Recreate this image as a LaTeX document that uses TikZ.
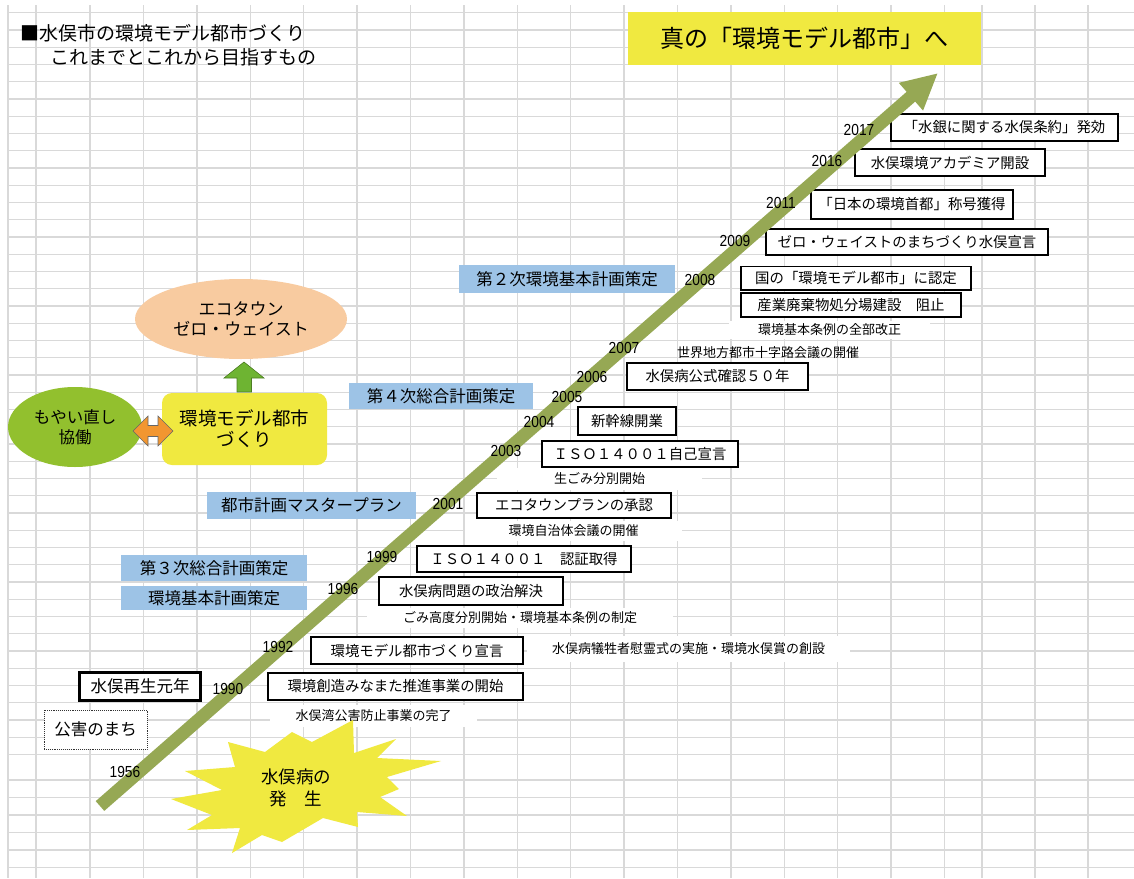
\documentclass[tikz,border=0pt]{standalone}
\usepackage{fontspec}
\setmainfont{Noto Sans CJK JP}
\newfontfamily\yearfont{Liberation Sans}[FakeStretch=0.86]
\usetikzlibrary{arrows.meta,shapes.geometric}
\definecolor{gridc}{RGB}{217,217,217}
\definecolor{yel}{RGB}{240,233,64}
\definecolor{blu}{RGB}{157,195,230}
\definecolor{peach}{RGB}{248,203,160}
\definecolor{leaf}{RGB}{146,192,46}
\definecolor{upgreen}{RGB}{110,180,50}
\definecolor{orng}{RGB}{242,150,48}
\definecolor{arrowc}{RGB}{150,168,84}
\newcommand\setfs[2]{\fontsize{#1}{#2}\selectfont}
\begin{document}
\begin{tikzpicture}[x=1pt,y=-1pt,
  gridline/.style={draw=gridc,line width=1.4pt},
  evbox/.style={draw=black,fill=white,line width=1.2pt,inner sep=0pt,font=\setfs{14.4}{16}},
  planbox/.style={fill=blu,inner sep=0pt,font=\setfs{16.5}{18}},
  yr/.style={inner sep=0pt,font=\yearfont\setfs{16}{17}},
  note/.style={inner sep=0pt,font=\setfs{13}{15}},
  notebg/.style={note,fill=white},
]
\useasboundingbox (0,0) rectangle (1134,878);
\fill[white] (0,0) rectangle (1134,878);
% spreadsheet grid
\foreach \gx in {8,36,90,143.4,196.8,250.2,303.6,357,410.4,463.8,517.2,570.6,624,677.4,730.8,784.2,837.6,891,944.4,982,1035,1088}
  \draw[gridline] (\gx,5) -- (\gx,878);
\foreach \k in {0,...,43}
  \draw[gridline] (8,{12.7+17.25*\k}) -- (1134,{12.7+17.25*\k});
\foreach \gy in {780,797.5,815,832.5,850,867.5}
  \draw[gridline] (8,\gy) -- (1134,\gy);

% title
\node[anchor=west,inner sep=0pt,font=\setfs{19}{21}] (title1) at (20,33) {■水俣市の環境モデル都市づくり};
\node[anchor=west,inner sep=0pt,font=\setfs{19}{21}] (title2) at (50,57) {これまでとこれから目指すもの};
\node[fill=yel,minimum width=353,minimum height=53,inner sep=0pt,font=\setfs{24}{26}] (goal) at (804.5,38.5) {真の「環境モデル都市」へ};

% white backed notes
\node[notebg,minimum width=201,minimum height=18] (t2008c) at (829.5,330) {環境基本条例の全部改正};
\node[notebg,minimum width=205,minimum height=22] (t2003) at (599.5,479) {生ごみ分別開始};
\node[notebg,minimum width=217,minimum height=20] (t2001) at (573.5,531) {環境自治体会議の開催};
\node[notebg,minimum width=306,minimum height=20] (t1996) at (520,618) {ごみ高度分別開始・環境基本条例の制定};
\node[notebg,minimum width=323,minimum height=26] (t1992) at (688.5,649) {水俣病犠牲者慰霊式の実施・環境水俣賞の創設};
\node[notebg,minimum width=207,minimum height=22] (t1990) at (373.5,716) {水俣湾公害防止事業の完了};
\node[note] (t2007) at (768,352.7) {世界地方都市十字路会議の開催};

% plan boxes
\node[planbox,minimum width=216,minimum height=28] (p2) at (567,279) {第２次環境基本計画策定};
\node[planbox,minimum width=184,minimum height=26] (p4) at (441,396) {第４次総合計画策定};
\node[planbox,minimum width=209,minimum height=27] (pm) at (311.5,505.5) {都市計画マスタープラン};
\node[planbox,minimum width=186,minimum height=26] (p3) at (214,568) {第３次総合計画策定};
\node[planbox,minimum width=186,minimum height=24] (pe) at (214,598) {環境基本計画策定};

% event boxes
\node[evbox,minimum width=227,minimum height=27] (b2017) at (1004.5,127.5) {「水銀に関する水俣条約」発効};
\node[evbox,minimum width=190,minimum height=27] (b2016) at (950,162.5) {水俣環境アカデミア開設};
\node[evbox,minimum width=202,minimum height=29] (b2011) at (912,204.5) {「日本の環境首都」称号獲得};
\node[evbox,minimum width=282,minimum height=26] (b2009) at (907,242) {ゼロ・ウェイストのまちづくり水俣宣言};
\node[evbox,minimum width=230,minimum height=23.5] (b2008a) at (856,278.3) {国の「環境モデル都市」に認定};
\node[evbox,minimum width=220,minimum height=24] (b2008b) at (851,305) {産業廃棄物処分場建設　阻止};
\node[evbox,minimum width=181,minimum height=27] (b2006) at (717.5,376.5) {水俣病公式確認５０年};
\node[evbox,minimum width=98,minimum height=28] (b2004) at (627,421) {新幹線開業};
\node[evbox,minimum width=196,minimum height=26] (b2003) at (640,454) {ＩＳＯ１４００１自己宣言};
\node[evbox,minimum width=194,minimum height=25] (b2001) at (574,505.5) {エコタウンプランの承認};
\node[evbox,minimum width=214,minimum height=26] (b1999) at (524,559) {ＩＳＯ１４００１　認証取得};
\node[evbox,minimum width=184,minimum height=28] (b1996) at (471,591) {水俣病問題の政治解決};
\node[evbox,minimum width=212,minimum height=27] (b1992) at (417,650.5) {環境モデル都市づくり宣言};
\node[evbox,minimum width=255,minimum height=27] (b1990) at (395.5,686.5) {環境創造みなまた推進事業の開始};
\node[draw=black,fill=white,line width=3pt,minimum width=121,minimum height=28,inner sep=0pt,font=\setfs{16.5}{18}] (saisei) at (140,686.5) {水俣再生元年};
\node[draw=black!80,fill=white,densely dotted,line width=0.9pt,minimum width=103,minimum height=39,inner sep=0pt,font=\setfs{16.5}{18}] (kogai) at (95.5,729.5) {公害のまち};

% main arrow
\coordinate (aS) at (100,806);
\coordinate (aE) at (938,73);
\draw[arrowc,line width=13pt,-{Triangle[length=36pt,width=34pt]}] (aS) -- (aE);

% year labels
\node[yr] (y2017) at (859,129.5) {2017};
\node[yr] (y2016) at (827,161) {2016};
\node[yr] (y2011) at (781,203) {2011};
\node[yr] (y2009) at (735,241) {2009};
\node[yr] (y2008) at (700,280) {2008};
\node[yr] (y2007) at (624,348) {2007};
\node[yr] (y2006) at (592,377) {2006};
\node[yr] (y2005) at (567,397) {2005};
\node[yr] (y2004) at (539,422) {2004};
\node[yr] (y2003) at (506,451) {2003};
\node[yr] (y2001) at (448,504) {2001};
\node[yr] (y1999) at (382,557) {1999};
\node[yr] (y1996) at (343,589) {1996};
\node[yr] (y1992) at (278,647) {1992};
\node[yr] (y1990) at (228,689) {1990};
\node[yr] (y1956) at (125,772) {1956};

% starburst
\fill[yel] (353,720) -- (354,753) -- (396,739) -- (377,758) -- (441,761) -- (387,777) -- (399,789) -- (380,797) -- (407,816) -- (357,812) -- (358,827) -- (323,818) -- (282,842) -- (262,835) -- (232,853) -- (240,828) -- (187,830) -- (212,815) -- (171,799) -- (222,790) -- (185,771) -- (235,767) -- (228,742) -- (265,752) -- (292,732) -- (312,742) -- cycle;
\node[inner sep=0pt,align=center,font=\setfs{17.5}{22}] (burst) at (296,788) {水俣病の\\発　生};

% left concept group
\node[ellipse,fill=peach,minimum width=212,minimum height=80,inner sep=0pt,align=center,font=\setfs{17}{20}] (eco) at (241,319) {エコタウン\\ゼロ・ウェイスト};
\node[ellipse,fill=leaf,minimum width=134,minimum height=80,inner sep=0pt,align=center,font=\setfs{16.5}{20}] (moyai) at (75,427) {もやい直し\\協働};
\node[fill=yel,rounded corners=10pt,minimum width=165,minimum height=72,inner sep=0pt,align=center,font=\setfs{18.5}{21}] (model) at (244.5,429) {環境モデル都市\\づくり};
\draw[fill=upgreen,draw=upgreen!70!black,line width=0.6pt] (244,362) -- (264,378) -- (251.5,378) -- (251.5,392) -- (237,392) -- (237,378) -- (224,378) -- cycle;
\draw[fill=orng,draw=black!60,line width=0.6pt] (133,431) -- (148,416) -- (148,425.5) -- (158,425.5) -- (158,416) -- (173,431) -- (158,446) -- (158,436.5) -- (148,436.5) -- (148,446) -- cycle;
\end{tikzpicture}
\end{document}
